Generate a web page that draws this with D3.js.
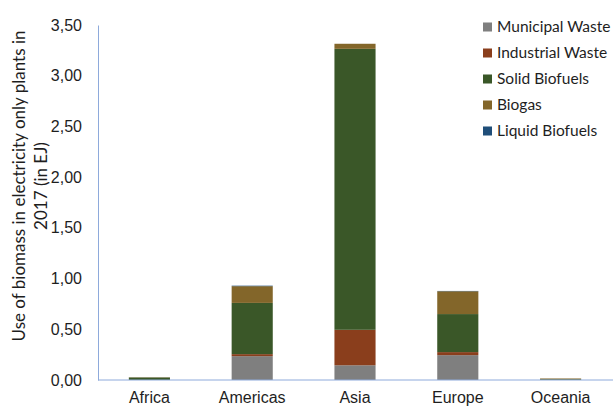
<!DOCTYPE html>
<html>
<head>
<meta charset="utf-8">
<script src="https://cdn.jsdelivr.net/npm/d3@7"></script>
<style>
  html, body { margin: 0; padding: 0; background: #fff; }
  svg { display: block; font-family: Lato, "Open Sans", sans-serif; }
</style>
</head>
<body>
<svg id="chart" width="613" height="408"></svg>
<script>
// Biomass use in electricity-only plants, 2017 (EJ), by region and feedstock
const regions = ["Africa", "Americas", "Asia", "Europe", "Oceania"];
const seriesNames = ["Municipal Waste", "Industrial Waste", "Solid Biofuels", "Biogas", "Liquid Biofuels"];
const municipalWaste = [0.000, 0.235, 0.145, 0.245, 0.000];
const industrialWaste = [0.000, 0.020, 0.350, 0.030, 0.000];
const solidBiofuels  = [0.025, 0.505, 2.770, 0.375, 0.008];
const biogas         = [0.002, 0.165, 0.050, 0.225, 0.007];
const liquidBiofuels = [0.000, 0.005, 0.000, 0.003, 0.000];
const yTicks = [0, 0.5, 1, 1.5, 2, 2.5, 3, 3.5];
const colors = ["#7f7f7f", "#8a3e1c", "#3a5728", "#83662a", "#1f4e79"];

const seriesValues = [municipalWaste, industrialWaste, solidBiofuels, biogas, liquidBiofuels];
const rows = regions.map((r, i) => {
  const row = { region: r };
  seriesNames.forEach((s, k) => { row[s] = seriesValues[k][i]; });
  return row;
});

const svg = d3.select("#chart");
const margin = { left: 98, right: 1, top: 25, bottom: 28 };
const W = 613, H = 408;
const ink = "#1e1e1e";

const x = d3.scaleBand().domain(regions).range([margin.left, W - margin.right]).paddingInner(0.6).paddingOuter(0.3);
const y = d3.scaleLinear().domain([0, 3.5]).range([H - margin.bottom, margin.top]);

const stack = d3.stack().keys(seriesNames)(rows);

// stacked bars
svg.append("g").selectAll("g").data(stack).join("g")
  .attr("fill", (d, i) => colors[i])
  .selectAll("rect").data(d => d).join("rect")
  .attr("x", d => x(d.data.region))
  .attr("width", x.bandwidth())
  .attr("y", d => y(d[1]))
  .attr("height", d => Math.max(0, y(d[0]) - y(d[1])));

// y axis
const fmt = v => d3.format(".2f")(v).replace(".", ",");
const yAxis = svg.append("g").attr("transform", `translate(${margin.left},0)`)
  .call(d3.axisLeft(y).tickValues(yTicks).tickFormat(fmt).tickSize(0).tickPadding(16));
yAxis.select(".domain").attr("stroke", "#8eaadb").attr("stroke-width", 1);
yAxis.selectAll("text").attr("font-size", 16).attr("fill", ink);

// x axis
const xAxis = svg.append("g").attr("transform", `translate(0,${y(0)})`)
  .call(d3.axisBottom(x).tickSize(0).tickPadding(12));
xAxis.select(".domain").attr("stroke", "#8eaadb").attr("stroke-width", 1)
  .attr("d", `M${margin.left},0H${W}`);
xAxis.selectAll("text").attr("font-size", 16).attr("fill", ink);

// y axis title
const title = svg.append("text")
  .attr("transform", `translate(31,186) rotate(-90)`)
  .attr("text-anchor", "middle")
  .attr("font-size", 17)
  .attr("fill", ink);
title.append("tspan").attr("x", 0).attr("dy", -6).text("Use of biomass in electricity only plants in");
title.append("tspan").attr("x", 0).attr("dy", 22).text("2017 (in EJ)");

// legend
const legend = svg.append("g").attr("transform", "translate(483,27)");
const item = legend.selectAll("g").data(seriesNames).join("g")
  .attr("transform", (d, i) => `translate(0,${i * 26})`);
item.append("rect").attr("x", 0).attr("y", -4.5).attr("width", 9).attr("height", 9)
  .attr("fill", (d, i) => colors[i]);
item.append("text").attr("x", 14).attr("dy", "0.35em").attr("font-size", 15.5)
  .attr("fill", ink).text(d => d);
</script>
</body>
</html>
